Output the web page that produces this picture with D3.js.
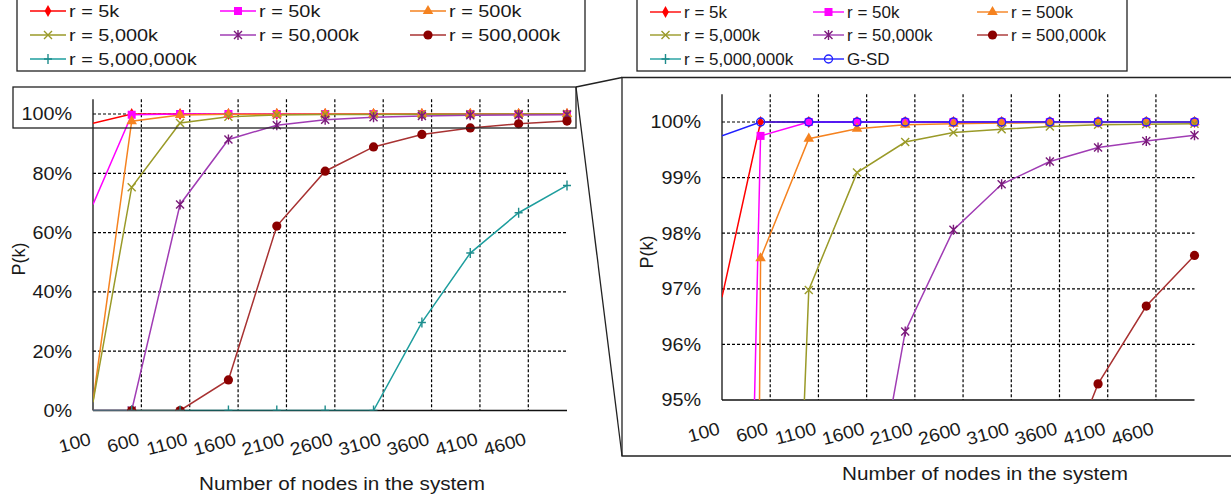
<!DOCTYPE html>
<html><head><meta charset="utf-8">
<script src="https://cdn.jsdelivr.net/npm/d3@7"></script>
<style>html,body{margin:0;padding:0;background:#fff;} svg{display:block;font-family:"Liberation Sans",Arial,sans-serif;}</style>
</head><body><svg id="c" width="1231" height="504"></svg>
<script>
// ---------------- DATA ----------------
const nodes = [100, 500, 1000, 1500, 2000, 2500, 3000, 3500, 4000, 4500, 5000];
const xTickLabels = [100, 600, 1100, 1600, 2100, 2600, 3100, 3600, 4100, 4600];
const leftYTicks = [0, 20, 40, 60, 80, 100];
const rightYTicks = [95, 96, 97, 98, 99, 100];
const seriesNames = ["r = 5k", "r = 50k", "r = 500k", "r = 5,000k", "r = 50,000k", "r = 500,000k", "r = 5,000,000k", "G-SD"];
const r5k      = [96.85, 100, 100, 100, 100, 100, 100, 100, 100, 100, 100];
const r50k     = [69.5, 99.75, 100, 100, 100, 100, 100, 100, 100, 100, 100];
const r500k    = [3, 97.55, 99.7, 99.88, 99.95, 99.97, 99.98, 99.99, 99.99, 100, 100];
const r5000k   = [2.8, 75.3, 96.98, 99.09, 99.64, 99.81, 99.87, 99.92, 99.95, 99.96, 99.97];
const r50000k  = [0, 0, 69.5, 91.4, 96.23, 98.06, 98.88, 99.29, 99.54, 99.66, 99.76];
const r500000k = [0, 0, 0, 10.3, 62.2, 80.7, 88.9, 93.1, 95.29, 96.69, 97.6];
const r5000000k= [0, 0, 0, 0, 0, 0, 0, 29.7, 53.1, 66.7, 75.9];
const gsd      = [99.75, 100, 100, 100, 100, 100, 100, 100, 100, 100, 100];
const xTitle = "Number of nodes in the system";
const yTitle = "P(k)";

// ---------------- STYLE ----------------
const styles = [
  {line: "#FF0000", mark: "#FF0000", sym: "diamond"},
  {line: "#FF00FF", mark: "#FF00FF", sym: "square"},
  {line: "#F5821F", mark: "#F5821F", sym: "triangle"},
  {line: "#9A9A28", mark: "#9A9A28", sym: "x"},
  {line: "#A03CB4", mark: "#7A1A7A", sym: "star"},
  {line: "#A83232", mark: "#8B0000", sym: "circle"},
  {line: "#1E9E9E", mark: "#1E8C8C", sym: "plus"},
  {line: "#2020FF", mark: "#2020FF", sym: "ocircle"}
];
const allSeries = [r5k, r50k, r500k, r5000k, r50000k, r500000k, r5000000k, gsd];

const svg = d3.select("#c");

function txt(g, x, y, s, o = {}) {
  const size = o.size || 18, sx = o.sx || 1, rot = o.rot || 0;
  const t = g.append("text")
    .attr("transform", `translate(${x},${y}) rotate(${rot}) scale(${sx},1)`)
    .attr("font-size", size)
    .attr("fill", "#1a1a1a")
    .attr("text-anchor", o.anchor || "start")
    .text(s);
  if (o.dy) t.attr("dy", o.dy);
  if (o.len) t.attr("textLength", o.len).attr("lengthAdjust", "spacingAndGlyphs");
  return t;
}

function marker(g, sym, color, x, y) {
  const gg = g.append("g").attr("transform", `translate(${x},${y})`);
  if (sym === "diamond") gg.append("path").attr("d", d3.symbol(d3.symbolDiamond, 40)()).attr("fill", color);
  else if (sym === "square") gg.append("rect").attr("x", -4).attr("y", -4).attr("width", 8).attr("height", 8).attr("fill", color);
  else if (sym === "triangle") gg.append("path").attr("d", d3.symbol(d3.symbolTriangle, 48)()).attr("fill", color);
  else if (sym === "x") gg.append("path").attr("d", "M-4,-4L4,4M-4,4L4,-4").attr("stroke", color).attr("stroke-width", 1.4).attr("fill", "none");
  else if (sym === "star") gg.append("path").attr("d", "M-4,-4L4,4M-4,4L4,-4M0,-5L0,5").attr("stroke", color).attr("stroke-width", 1.4).attr("fill", "none");
  else if (sym === "circle") gg.append("circle").attr("r", 4.6).attr("fill", color);
  else if (sym === "plus") gg.append("path").attr("d", "M-4,0L4,0M0,-5L0,5").attr("stroke", color).attr("stroke-width", 1.4).attr("fill", "none");
  else if (sym === "ocircle") gg.append("circle").attr("r", 4).attr("fill", "none").attr("stroke", color).attr("stroke-width", 1.4);
}

function drawChart(opt) {
  const g = svg.append("g");
  const x = d3.scaleLinear().domain([100, 5000]).range([opt.x0, opt.x1]);
  const y = d3.scaleLinear().domain(opt.yDomain).range([opt.yBottom, opt.yTop]);
  const dash = "3,2";
  // horizontal gridlines
  opt.yTicks.forEach(v => {
    if (v === opt.yDomain[0]) return;
    g.append("line").attr("x1", opt.x0).attr("x2", opt.x1).attr("y1", y(v)).attr("y2", y(v))
      .attr("stroke", "#000").attr("stroke-width", 1.2).attr("stroke-dasharray", dash);
  });
  // vertical gridlines
  xTickLabels.forEach(v => {
    if (v === 100) return;
    g.append("line").attr("x1", x(v)).attr("x2", x(v)).attr("y1", opt.yTop).attr("y2", opt.yBottom)
      .attr("stroke", "#000").attr("stroke-width", 1.2).attr("stroke-dasharray", dash);
  });
  // axes
  g.append("line").attr("x1", opt.x0).attr("x2", opt.x0).attr("y1", opt.yTop).attr("y2", opt.yBottom).attr("stroke", "#111").attr("stroke-width", 1.3);
  g.append("line").attr("x1", opt.x0).attr("x2", opt.x1).attr("y1", opt.yBottom).attr("y2", opt.yBottom).attr("stroke", "#111").attr("stroke-width", 1.3);
  // y tick labels
  opt.yTicks.forEach(v => txt(g, opt.x0 - 21, y(v), v + "%", {anchor: "end", dy: "0.35em", size: 18, sx: 1.1}));
  // x tick labels
  xTickLabels.forEach(v => txt(g, x(v) - 1, opt.yBottom + 34, String(v), {anchor: "end", size: 18, sx: 1.08, rot: -15}));
  // titles
  txt(g, opt.titleX, opt.titleY, xTitle, {anchor: "middle", size: 18, len: 286});
  txt(g, opt.pkX, opt.pkY, yTitle, {anchor: "middle", size: 18, rot: -90, dy: "0.35em"});

  // clip
  const id = "clip" + opt.name;
  svg.append("clipPath").attr("id", id).append("rect")
    .attr("x", opt.x0).attr("y", opt.yTop - 6).attr("width", opt.x1 - opt.x0 + 8).attr("height", opt.yBottom - opt.yTop + 6);
  const pg = g.append("g").attr("clip-path", `url(#${id})`);
  const line = d3.line().x((d, i) => x(nodes[i])).y(d => y(d));
  opt.series.forEach(si => {
    const data = allSeries[si], st = styles[si];
    pg.append("path").datum(data).attr("d", line).attr("fill", "none")
      .attr("stroke", st.line).attr("stroke-width", 1.5);
  });
  opt.series.forEach(si => {
    const data = allSeries[si], st = styles[si];
    data.forEach((v, i) => {
      if (nodes[i] <= 100) return;
      if (v < opt.yDomain[0]) return;
      marker(pg, st.sym, st.mark, x(nodes[i]), y(v));
    });
  });
}

// Left chart
drawChart({name: "L", x0: 93, x1: 567, yDomain: [0, 105], yBottom: 410.5, yTop: 410.5 - 296.5 * 1.05,
  yTicks: leftYTicks, series: [0, 1, 2, 3, 4, 5, 6], titleX: 342, titleY: 490, pkX: 19, pkY: 259});
// Right chart
drawChart({name: "R", x0: 722, x1: 1194.5, yDomain: [95, 100.5], yBottom: 400, yTop: 400 - 55.6 * 5.5,
  yTicks: rightYTicks, series: [0, 1, 2, 3, 4, 5, 6, 7], titleX: 985, titleY: 480, pkX: 647, pkY: 252});

// Zoom indicator rectangle and connectors
const fr = svg.append("g").attr("fill", "none").attr("stroke", "#222").attr("stroke-width", 1.3);
fr.append("rect").attr("x", 13).attr("y", 87).attr("width", 563).attr("height", 41);
fr.append("line").attr("x1", 576).attr("y1", 87).attr("x2", 622).attr("y2", 77.5);
fr.append("line").attr("x1", 576).attr("y1", 87).attr("x2", 622).attr("y2", 456);
fr.append("path").attr("d", "M1240,77.5H622V456H1240");

// Legends
function legend(box, cols, rows, lineLen, gap, nItems, size, sx) {
  const g = svg.append("g");
  g.append("rect").attr("x", box[0]).attr("y", box[1]).attr("width", box[2]).attr("height", box[3])
    .attr("fill", "#fff").attr("stroke", "#222").attr("stroke-width", 1.3);
  for (let i = 0; i < nItems; i++) {
    const cx = cols[i % 3], cy = rows[Math.floor(i / 3)], st = styles[i];
    g.append("line").attr("x1", cx).attr("x2", cx + lineLen).attr("y1", cy).attr("y2", cy).attr("stroke", st.line).attr("stroke-width", 1.4);
    marker(g, st.sym, st.mark, cx + lineLen / 2, cy);
    txt(g, cx + lineLen + gap, cy, seriesNames[i], {size: size, sx: sx, dy: "0.35em"});
  }
}
legend([17, -5, 568, 76], [30, 220, 410], [11, 35, 59], 36, 3, 7, 17, 1.17);
legend([637, -5, 490, 76], [650, 813, 977], [12, 35, 59], 31, 3, 8, 17, 1.0);
</script></body></html>
